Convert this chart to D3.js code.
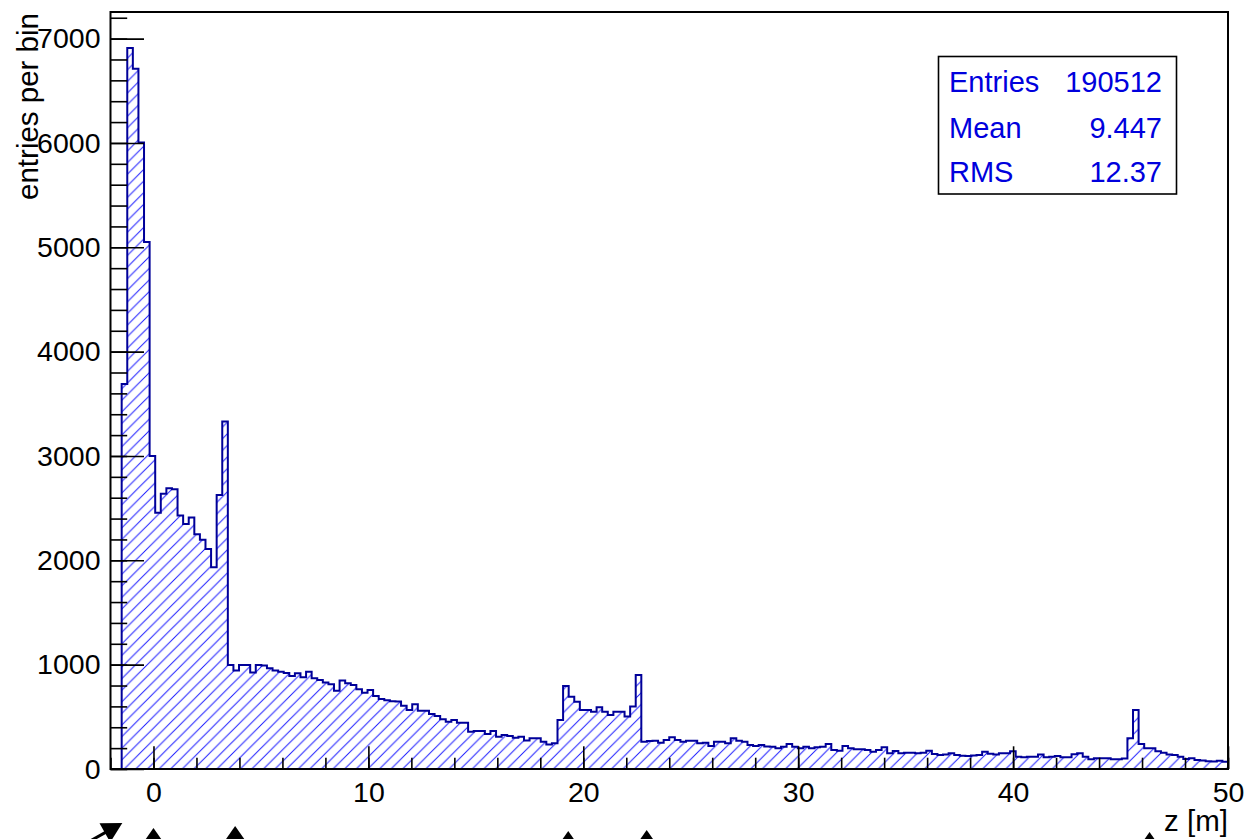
<!DOCTYPE html>
<html><head><meta charset="utf-8">
<script src="https://cdn.jsdelivr.net/npm/d3@7/dist/d3.min.js"></script>
<style>
html,body{margin:0;padding:0;background:#fff;}
svg{display:block;font-family:"Liberation Sans",Arial,Helvetica,sans-serif;}
</style></head><body>
<svg id="chart" width="1246" height="839"></svg>
<script>
// Histogram definition: 200 bins on [-2, 50]
const binLow = -2;
const binHigh = 50;
const nBins = 200;
const counts = [
  0, 0, 3690, 6910, 6710, 6005, 5050, 3000, 2457, 2637,
  2690, 2680, 2429, 2349, 2410, 2250, 2196, 2109, 1934, 2627,
  3330, 997, 943, 997, 997, 924, 997, 991, 965, 943,
  933, 920, 892, 917, 879, 933, 869, 853, 828, 812,
  751, 847, 821, 805, 764, 730, 757, 700, 672, 660,
  650, 646, 607, 566, 620, 559, 559, 527, 508, 476,
  454, 470, 444, 444, 358, 364, 364, 336, 364, 310,
  326, 316, 300, 310, 272, 294, 294, 262, 236, 246,
  470, 796, 693, 645, 566, 566, 549, 591, 549, 518,
  549, 549, 502, 598, 901, 262, 268, 271, 252, 278,
  304, 278, 262, 271, 271, 246, 252, 220, 262, 262,
  246, 294, 271, 262, 230, 220, 230, 215, 214, 198,
  214, 240, 214, 198, 214, 198, 208, 214, 240, 182,
  176, 220, 198, 189, 189, 182, 166, 182, 208, 150,
  173, 150, 155, 155, 150, 155, 176, 144, 134, 140,
  150, 135, 128, 125, 130, 134, 166, 145, 140, 150,
  150, 170, 118, 112, 118, 118, 138, 112, 118, 125,
  112, 112, 141, 150, 118, 93, 102, 102, 102, 93,
  93, 100, 294, 566, 240, 198, 198, 170, 155, 140,
  134, 118, 95, 102, 86, 82, 75, 72, 80, 70
];
const yMax = 7255;
const yMajorTicks = [0, 1000, 2000, 3000, 4000, 5000, 6000, 7000];
const yMinorTicks = d3.range(0, 7201, 200);
const xMajorTicks = [0, 10, 20, 30, 40, 50];
const xMinorTicks = d3.range(-2, 50.01, 2);
const xTitle = "z [m]";
const yTitle = "entries per bin";
const statsLabels = ["Entries", "Mean", "RMS"];
const statsValues = ["190512", "9.447", "12.37"];
// markers below the axis (z position of the arrow tip)
const arrowZ = [0, 3.8, 19.3, 22.95, 46.35];
const arrowTip = [828, 826, 831, 830, 832];
const diagArrowZ = [-1.45];

const svg = d3.select("#chart");
const frame = {l: 110.5, r: 1228, t: 12, b: 769};

const x = d3.scaleLinear().domain([binLow, binHigh]).range([frame.l, frame.r]);
const y = d3.scaleLinear().domain([0, yMax]).range([frame.b, frame.t]);

const binW = (binHigh - binLow) / nBins;

// hatch pattern ("/" diagonal lines)
const defs = svg.append("defs");
const hs = 11.6;
const pat = defs.append("pattern")
  .attr("id", "hatch")
  .attr("patternUnits", "userSpaceOnUse")
  .attr("width", hs).attr("height", hs);
pat.append("path")
  .attr("d", `M0,${hs} L${hs},0 M${-hs/2},${hs/2} L${hs/2},${-hs/2} M${hs/2},${hs*1.5} L${hs*1.5},${hs/2}`)
  .attr("stroke", "#1a1aff").attr("stroke-width", 1).attr("fill", "none");

// step outline points
const pts = [[binLow, 0]];
counts.forEach((c, i) => {
  const lo = binLow + i * binW, hi = lo + binW;
  pts.push([lo, c]); pts.push([hi, c]);
});
pts.push([binHigh, 0]);
const line = d3.line().x(d => x(d[0])).y(d => y(d[1]));

svg.append("path").attr("d", line(pts) + "Z")
  .attr("fill", "url(#hatch)").attr("stroke", "none");
svg.append("path").attr("d", line(pts))
  .attr("fill", "none").attr("stroke", "#000099").attr("stroke-width", 2)
  .attr("stroke-linejoin", "miter");

// axes
const fontSize = 28.5;
const titleSize = 29.5;
const yMinor = d3.axisLeft(y).tickValues(yMinorTicks).tickSize(-16.7).tickFormat("");
const yMajor = d3.axisLeft(y).tickValues(yMajorTicks).tickSize(-33.5).tickPadding(10).tickFormat(d3.format("d"));
const xMinor = d3.axisBottom(x).tickValues(xMinorTicks).tickSize(-11.3).tickFormat("");
const xMajor = d3.axisBottom(x).tickValues(xMajorTicks).tickSize(-22.7).tickPadding(13).tickFormat(d3.format("d"));

function styleAxis(g) {
  g.select(".domain").remove();
  g.selectAll(".tick line").attr("stroke", "#000").attr("stroke-width", 1.6);
  g.selectAll(".tick text").attr("fill", "#000").style("font-size", fontSize + "px")
    .style("font-family", '"Liberation Sans",Arial,Helvetica,sans-serif');
}
svg.append("g").attr("transform", `translate(${frame.l},0)`).call(yMinor).call(styleAxis);
svg.append("g").attr("transform", `translate(${frame.l},0)`).call(yMajor).call(styleAxis);
svg.append("g").attr("transform", `translate(0,${frame.b})`).call(xMinor).call(styleAxis);
svg.append("g").attr("transform", `translate(0,${frame.b})`).call(xMajor).call(styleAxis);

// frame
svg.append("rect").attr("x", frame.l).attr("y", frame.t)
  .attr("width", frame.r - frame.l).attr("height", frame.b - frame.t)
  .attr("fill", "none").attr("stroke", "#000").attr("stroke-width", 2);

// titles
svg.append("text").attr("x", frame.r).attr("y", 831)
  .attr("text-anchor", "end").style("font-size", titleSize + "px").text(xTitle);
svg.append("text").attr("transform", `translate(38,13) rotate(-90)`)
  .attr("text-anchor", "end").style("font-size", titleSize + "px").text(yTitle);

// stats box
const sb = {x: 938.5, y: 56.5, w: 238, h: 137.5};
svg.append("rect").attr("x", sb.x).attr("y", sb.y).attr("width", sb.w).attr("height", sb.h)
  .attr("fill", "#fff").attr("stroke", "#000").attr("stroke-width", 1.6);
const rowY = [91.5, 138, 181.5];
statsLabels.forEach((lab, i) => {
  svg.append("text").attr("x", 949).attr("y", rowY[i]).attr("fill", "#0000dd")
    .style("font-size", "29px").text(lab);
  svg.append("text").attr("x", 1162).attr("y", rowY[i]).attr("fill", "#0000dd")
    .attr("text-anchor", "end").style("font-size", "29px").text(statsValues[i]);
});

// arrows below the axis
arrowZ.forEach((z, i) => {
  const cx = x(z), ty = arrowTip[i];
  svg.append("line").attr("x1", cx).attr("y1", ty + 10).attr("x2", cx).attr("y2", 880)
    .attr("stroke", "#000").attr("stroke-width", 3);
  svg.append("path").attr("d", `M${cx},${ty} L${cx - 14},${ty + 20} L${cx + 14},${ty + 20}Z`)
    .attr("fill", "#000");
});
diagArrowZ.forEach(z => {
  const tx = x(z), ty = 823;
  const ang = Math.atan2(-14, 25);
  const L = 20, W = 11;
  const ux = Math.cos(ang), uy = Math.sin(ang);
  const bx = tx - ux * L, by = ty - uy * L;
  svg.append("line").attr("x1", tx - ux * 8).attr("y1", ty - uy * 8)
    .attr("x2", tx - ux * 60).attr("y2", ty - uy * 60)
    .attr("stroke", "#000").attr("stroke-width", 3);
  svg.append("path").attr("d", `M${tx},${ty} L${bx - uy * W},${by + ux * W} L${bx + uy * W},${by - ux * W}Z`)
    .attr("fill", "#000");
});
</script>
</body></html>
